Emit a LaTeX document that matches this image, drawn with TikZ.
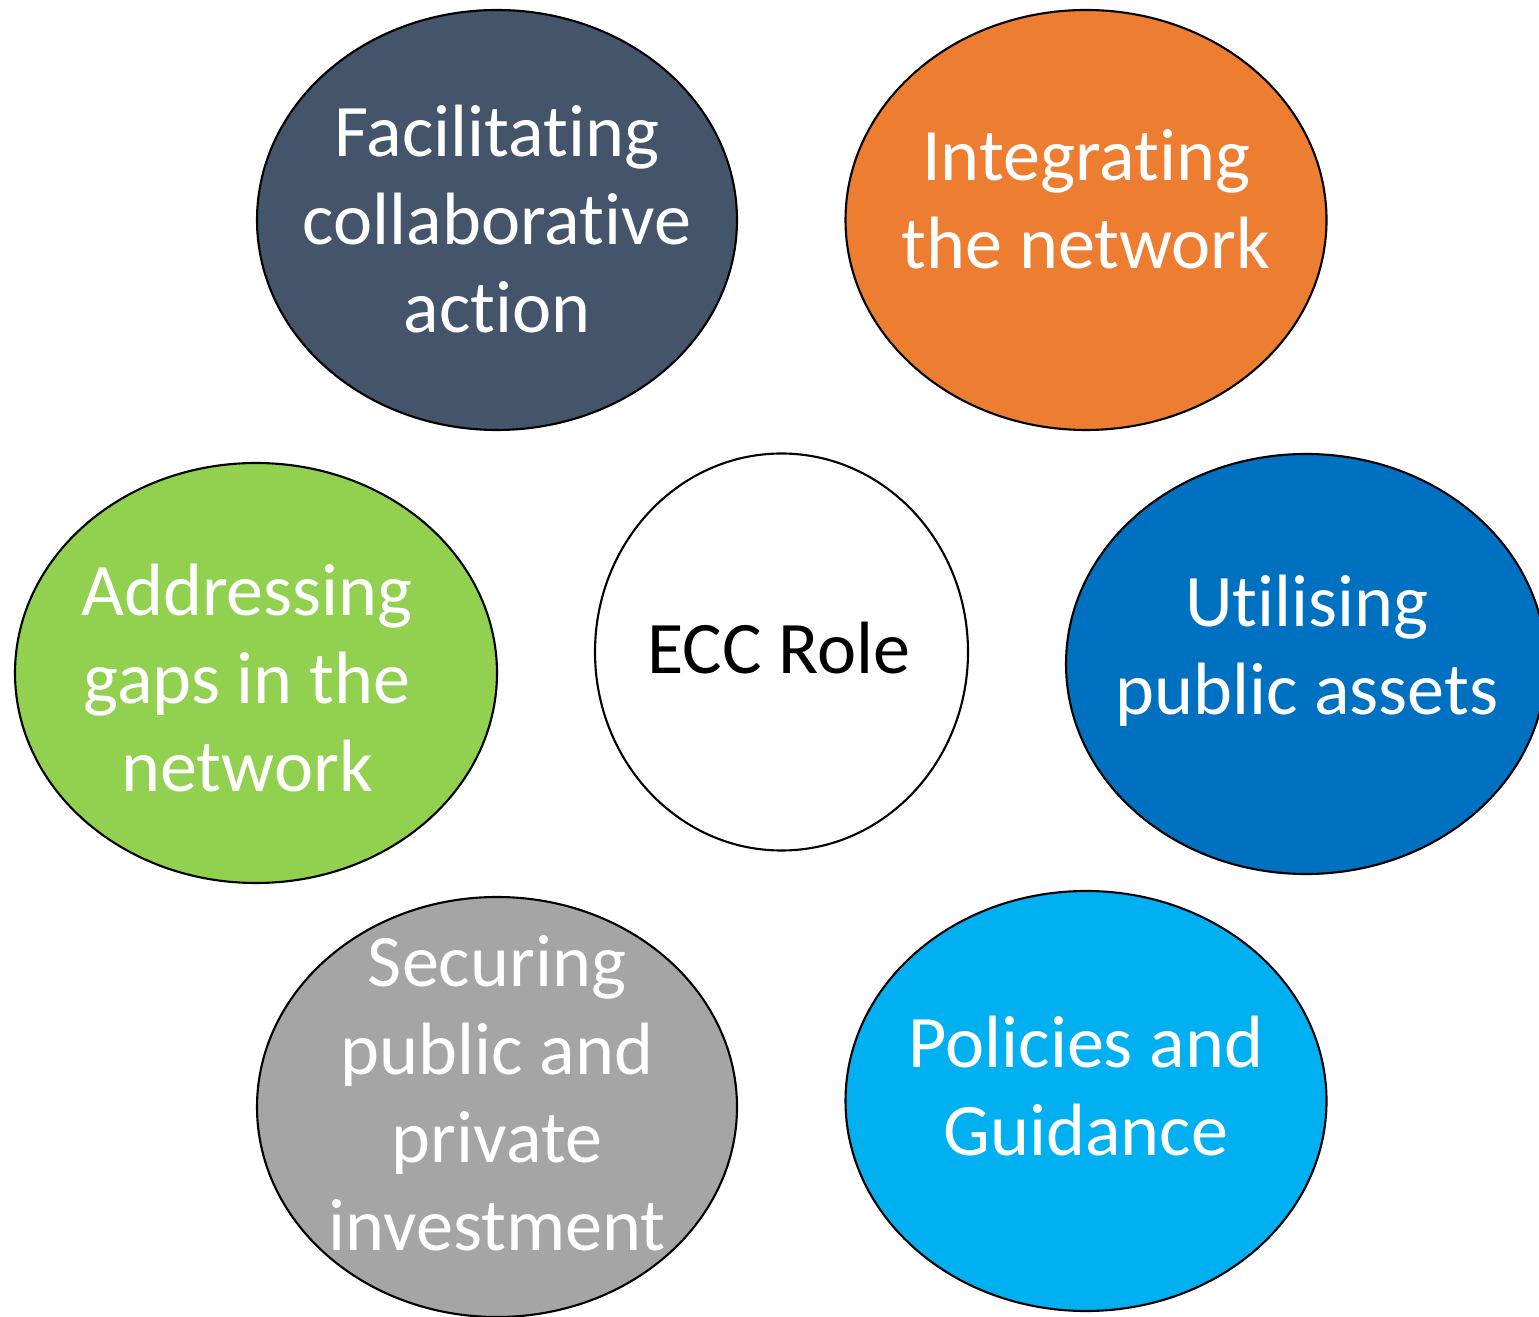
\documentclass[tikz,border=0pt]{standalone}
\usepackage{fontspec}
\setmainfont{Carlito}[Ligatures=NoCommon]
\usetikzlibrary{shapes.geometric}

\definecolor{slate}{HTML}{44546A}
\definecolor{orng}{HTML}{ED7D31}
\definecolor{lgreen}{HTML}{92D050}
\definecolor{dblue}{HTML}{0070C0}
\definecolor{sgray}{HTML}{A5A5A5}
\definecolor{sky}{HTML}{00B0F0}

\tikzset{
	bubble/.style={ellipse, draw=black, line width=0.6pt, inner sep=0pt},
	bubtext/.style={text=white, align=center, font=\fontsize{21.1}{25}\selectfont}
}

\begin{document}
\begin{tikzpicture}
		%%%%% START %%%%%
		
		\useasboundingbox (0, 0) rectangle (15.39, 13.16);
		\clip (0, 0) rectangle (15.39, 13.16);
		
		\node[bubble, fill=slate, minimum width=4.80cm, minimum height=4.20cm] (fac) at (4.97, 10.96) {};
		\node[bubble, fill=orng, minimum width=4.81cm, minimum height=4.20cm] (integ) at (10.86, 10.96) {};
		
		\node[bubble, fill=lgreen, minimum width=4.82cm, minimum height=4.20cm] (addr) at (2.56, 6.43) {};
		\node[bubble, fill=white, minimum width=3.73cm, minimum height=3.97cm] (ecc) at (7.815, 6.64) {};
		\node[bubble, fill=dblue, minimum width=4.80cm, minimum height=4.20cm] (util) at (13.06, 6.52) {};
		
		\node[bubble, fill=sgray, minimum width=4.80cm, minimum height=4.20cm] (secur) at (4.97, 2.09) {};
		\node[bubble, fill=sky, minimum width=4.81cm, minimum height=4.20cm] (policy) at (10.86, 2.15) {};
		
		% labels
		\node[bubtext] (fac-t) at (4.97, 10.97) {Facilitating\\collaborative\\action};
		\node[bubtext] (integ-t) at (10.86, 11.17) {Integrating\\the network};
		\node[bubtext] (addr-t) at (2.47, 6.38) {Addressing\\gaps in the\\network};
		\node[bubtext, text=black] (ecc-t) at (7.79, 6.68) {ECC Role};
		\node[bubtext] (util-t) at (13.07, 6.65) {Utilising\\public assets};
		\node[bubtext] (secur-t) at (4.97, 2.23) {Securing\\public and\\private\\investment};
		\node[bubtext] (policy-t) at (10.86, 2.30) {Policies and\\Guidance};
		
		%%%%% END %%%%%
	\end{tikzpicture}
\end{document}
